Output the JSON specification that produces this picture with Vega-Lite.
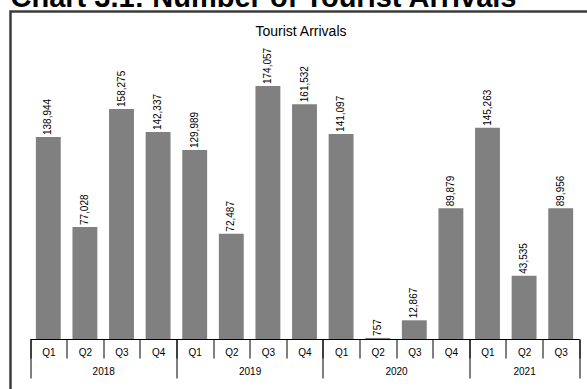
{
  "$schema": "https://vega.github.io/schema/vega-lite/v6.json",
  "autosize": "none",
  "width": 576.5,
  "height": 377.5,
  "padding": {"left": 10.5, "top": 11.5, "right": 0, "bottom": 0},
  "background": "#ffffff",
  "title": {
    "text": "Chart 3.1: Number of Tourist Arrivals",
    "anchor": "start",
    "frame": "group",
    "font": "Liberation Sans",
    "fontSize": 29,
    "fontWeight": "bold",
    "color": "#000000",
    "baseline": "alphabetic",
    "offset": -24.5
  },
  "data": {
    "values": [
      {"period": "2018 Q1", "arrivals": 138944},
      {"period": "2018 Q2", "arrivals": 77028},
      {"period": "2018 Q3", "arrivals": 158275},
      {"period": "2018 Q4", "arrivals": 142337},
      {"period": "2019 Q1", "arrivals": 129989},
      {"period": "2019 Q2", "arrivals": 72487},
      {"period": "2019 Q3", "arrivals": 174057},
      {"period": "2019 Q4", "arrivals": 161532},
      {"period": "2020 Q1", "arrivals": 141097},
      {"period": "2020 Q2", "arrivals": 757},
      {"period": "2020 Q3", "arrivals": 12867},
      {"period": "2020 Q4", "arrivals": 89879},
      {"period": "2021 Q1", "arrivals": 145263},
      {"period": "2021 Q2", "arrivals": 43535},
      {"period": "2021 Q3", "arrivals": 89956}
    ]
  },
  "encoding": {
    "y": {
      "field": "arrivals",
      "type": "quantitative",
      "scale": {"domain": [0, 200000], "range": [327.5, 36.8], "nice": false, "zero": true},
      "axis": {
        "title": "Tourist Arrivals",
        "labels": false,
        "ticks": false,
        "domain": false,
        "grid": false,
        "titleAngle": 0,
        "titleX": 290,
        "titleY": 23.5,
        "titleAlign": "center",
        "titleBaseline": "alphabetic",
        "titleFont": "Liberation Sans",
        "titleFontSize": 14,
        "titleFontWeight": "normal",
        "titleColor": "#000000"
      }
    }
  },
  "layer": [
    {
      "mark": {"type": "bar", "color": "#808080", "width": {"band": 0.68}},
      "encoding": {
        "x": {
          "field": "period",
          "type": "nominal",
          "sort": null,
          "scale": {"type": "band", "paddingInner": 0, "paddingOuter": 0, "range": [19.5, 568.5]},
          "axis": {
            "orient": "bottom",
            "offset": -50,
            "title": null,
            "grid": false,
            "tickBand": "extent",
            "tickSize": 19,
            "tickColor": "#000000",
            "tickWidth": 1,
            "domainColor": "#000000",
            "domainWidth": 1,
            "labelExpr": "split(datum.value, ' ')[1]",
            "labelAngle": 0,
            "labelFont": "Liberation Sans",
            "labelFontSize": 10,
            "labelColor": "#000000",
            "labelPadding": -10.5,
            "labelOverlap": false
          }
        }
      }
    },
    {
      "mark": {
        "type": "text",
        "angle": 270,
        "align": "left",
        "baseline": "middle",
        "dx": 2,
        "font": "Liberation Sans",
        "fontSize": 10,
        "color": "#000000"
      },
      "encoding": {
        "x": {
          "field": "period",
          "type": "nominal",
          "sort": null,
          "axis": {
            "orient": "bottom",
            "offset": -50,
            "title": null,
            "grid": false,
            "domain": false,
            "tickBand": "extent",
            "tickSize": 39,
            "tickColor": "#000000",
            "tickWidth": 1,
            "tickOpacity": {
              "condition": {
                "test": "!datum.value || indexof(['2018 Q4', '2019 Q4', '2020 Q4', '2021 Q3'], datum.value) >= 0",
                "value": 1
              },
              "value": 0
            },
            "labelExpr": "indexof(['2018 Q2', '2019 Q2', '2020 Q2', '2021 Q2'], datum.value) >= 0 ? slice(datum.value, 0, 4) : ''",
            "labelOffset": {
              "condition": {"test": "datum.value === '2021 Q2'", "value": 0},
              "value": 18.3
            },
            "labelAngle": 0,
            "labelFont": "Liberation Sans",
            "labelFontSize": 10,
            "labelColor": "#000000",
            "labelPadding": -11.7,
            "labelOverlap": false
          }
        },
        "text": {"field": "arrivals", "type": "quantitative", "format": ","}
      }
    }
  ],
  "resolve": {"axis": {"x": "independent"}},
  "config": {
    "view": {
      "stroke": "#3c3c3c",
      "strokeWidth": 2.5,
      "strokeDash": [576.5, 954, 377.5],
      "fill": "#ffffff"
    }
  }
}
